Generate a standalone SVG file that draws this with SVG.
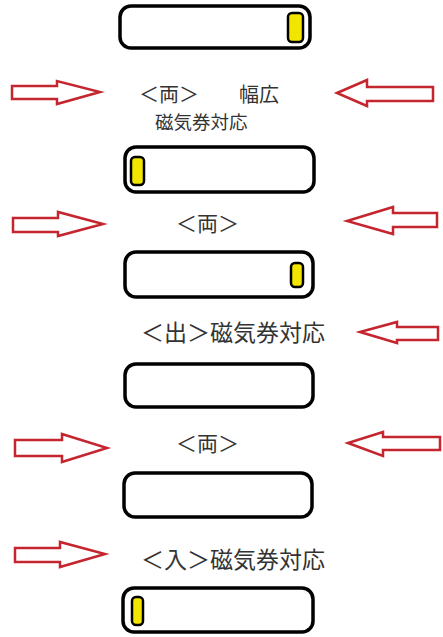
<svg xmlns="http://www.w3.org/2000/svg" width="443" height="637" viewBox="0 0 443 637">
<style>
.gate{fill:#fff;stroke:#000;stroke-width:3.5}
.slot{fill:#f2e600;stroke:#000;stroke-width:2.5}
.arr{fill:#fff;stroke:#c4252e;stroke-width:2.5;stroke-linejoin:miter}
.t{font-family:"Noto Sans CJK JP","Noto Sans CJK SC",sans-serif;fill:#333}
</style>
<rect width="443" height="637" fill="#fff"/>
<g id="gate1"><rect class="gate" x="120" y="6" width="190" height="42" rx="11"/><rect class="slot" x="288" y="13" width="15" height="29" rx="4"/></g>
<g id="gate2"><rect class="gate" x="125" y="147" width="189" height="45" rx="11"/><rect class="slot" x="131" y="157" width="13" height="28" rx="4"/></g>
<g id="gate3"><rect class="gate" x="125" y="252" width="188" height="45" rx="11"/><rect class="slot" x="291" y="263" width="12" height="24" rx="4"/></g>
<g id="gate4"><rect class="gate" x="125" y="364" width="188" height="43" rx="11"/></g>
<g id="gate5"><rect class="gate" x="124" y="473" width="188" height="44" rx="11"/></g>
<g id="gate6"><rect class="gate" x="123" y="588" width="190" height="44" rx="11"/><rect class="slot" x="132" y="597" width="11" height="28" rx="4"/></g>
<g id="labels">
<text class="t" x="139" y="102" font-size="20" xml:space="preserve">＜両＞　　幅広</text>
<text class="t" x="155" y="129" font-size="18.5">磁気券対応</text>
<text class="t" x="176" y="231" font-size="21">＜両＞</text>
<text class="t" x="141" y="341" font-size="23">＜出＞磁気券対応</text>
<text class="t" x="176" y="451" font-size="21">＜両＞</text>
<text class="t" x="141" y="568" font-size="23">＜入＞磁気券対応</text>
</g>
<g id="connectors">
<polygon class="arr" points="12,86 57,86 57,81 100,92 57,104 57,99 12,99"/>
<polygon class="arr" points="337,93 367,80 367,87 433,87 433,101 367,101 367,106"/>
<polygon class="arr" points="13,218 58,218 58,212 103,224 58,236 58,232 13,232"/>
<polygon class="arr" points="347,221 393,207 393,213 437,213 437,227 393,227 393,234"/>
<polygon class="arr" points="360,332 397,322 397,327 438,327 438,340 397,340 397,343"/>
<polygon class="arr" points="15,440 62,440 62,434 107,448 62,462 62,456 15,456"/>
<polygon class="arr" points="348,443 383,432 383,437 440,437 440,450 383,450 383,456"/>
<polygon class="arr" points="15,548 60,548 60,542 105,554 60,567 60,562 15,562"/>
</g>
</svg>
